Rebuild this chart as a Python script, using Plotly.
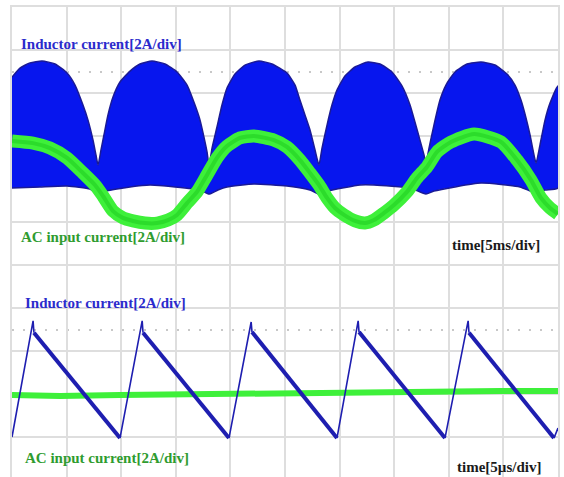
import plotly.graph_objects as go

# ---------------- top panel: time [ms], current [A] ----------------
ind_top_t = [0.00, 0.73, 1.65, 2.75, 3.94, 5.04, 5.77, 6.50, 6.96, 7.42, 7.69, 7.88,
             8.15, 8.42, 8.79, 9.25, 9.89, 10.81, 11.72, 12.82, 14.01, 15.11, 16.03,
             16.76, 17.22, 17.58, 17.86, 18.04, 18.32, 18.77, 19.23, 19.69, 20.42,
             21.34, 22.62, 23.81, 25.18, 25.92, 26.37, 26.83, 27.29, 27.75, 28.11,
             28.39, 28.85, 29.30, 29.76, 30.49, 31.41, 32.60, 33.70, 34.80, 35.71,
             36.45, 36.90, 37.36, 37.73, 37.91, 38.19, 38.64, 39.19, 39.74, 40.57,
             41.67, 42.95, 44.23, 45.33, 46.06, 46.61, 47.07, 47.44, 47.71, 47.99,
             48.35, 48.81, 49.27, 50.00]
ind_top_a = [4.74, 5.16, 5.40, 5.49, 5.35, 4.93, 4.37, 3.44, 2.74, 1.81, 1.12, 0.65,
             1.35, 2.05, 2.98, 3.81, 4.51, 5.02, 5.35, 5.49, 5.35, 4.98, 4.37,
             3.44, 2.74, 1.95, 1.26, 0.65, 1.44, 2.42, 3.44, 4.23, 4.88,
             5.30, 5.49, 5.35, 4.93, 4.37, 3.67, 2.98, 2.28, 1.35, 0.65,
             1.44, 2.51, 3.44, 4.14, 4.79, 5.21, 5.44, 5.35, 4.98, 4.33,
             3.44, 2.65, 1.81, 1.12, 0.74, 1.44, 2.51, 3.67, 4.37, 4.98,
             5.35, 5.44, 5.30, 4.88, 4.37, 3.67, 2.84, 2.05, 1.35, 0.74,
             1.58, 2.74, 3.53, 4.33]

ind_bot_t = [0.00, 2.56, 5.04, 7.14, 7.88, 8.61, 10.81, 12.64, 14.93, 17.22, 18.04,
             18.86, 19.69, 22.16, 25.18, 27.29, 28.11, 28.94, 31.87, 33.15, 36.45,
             37.91, 38.64, 42.95, 46.52, 47.99, 48.81, 50.00]
ind_bot_a = [-0.42, -0.37, -0.33, -0.47, -0.70, -0.56, -0.37, -0.28, -0.37, -0.51, -0.70,
             -0.51, -0.37, -0.23, -0.33, -0.51, -0.70, -0.56, -0.28, -0.28, -0.42,
             -0.70, -0.56, -0.19, -0.37, -0.65, -0.51, -0.42]

ac_top_t = [0.00, 1.92, 3.48, 5.04, 6.50, 7.60, 8.33, 9.25, 10.16, 11.08, 12.18, 13.28,
            14.29, 15.11, 16.03, 16.94, 17.86, 18.77, 19.69, 20.88, 22.16, 23.99,
            25.18, 26.37, 27.29, 28.11, 28.85, 29.58, 30.40, 31.41, 32.33, 33.15,
            34.07, 34.98, 36.17, 37.09, 38.00, 38.92, 40.20, 42.31, 44.78, 46.25,
            47.53, 48.44, 49.27, 50.00]
ac_top_a = [1.77, 1.67, 1.44, 0.98, 0.28, -0.28, -0.79, -1.49, -1.81, -1.95, -2.05, -2.05,
            -1.91, -1.67, -1.12, -0.60, 0.19, 0.98, 1.53, 1.91, 2.00, 1.81,
            1.49, 0.88, 0.28, -0.28, -0.88, -1.35, -1.67, -1.95, -2.05, -1.91,
            -1.58, -1.21, -0.60, 0.05, 0.56, 1.26, 1.72, 2.09, 1.72, 0.88,
            -0.05, -0.88, -1.35, -1.63]

# ---------------- bottom panel: time [µs], current [A] ----------------
valley_t = [0.00, 9.89, 19.87, 29.76, 39.65, 49.63]
valley_a = [0.00, -0.05, -0.05, -0.05, -0.05, -0.05]
spike_t = [1.93, 11.92, 21.90, 31.70, 41.77]
spike_a = [5.40, 5.40, 5.35, 5.40, 5.40]
peak_t = [2.01, 12.00, 21.98, 31.78, 41.85]
peak_a = [4.85, 4.85, 4.88, 4.88, 4.85]
tail_t = [50.00]
tail_a = [0.42]

ac_bot_t = [0.00, 4.40, 9.89, 17.22, 24.54, 29.12, 35.53, 40.11, 44.69, 50.00]
ac_bot_a = [1.95, 1.91, 1.95, 2.00, 2.00, 2.05, 2.09, 2.14, 2.14, 2.14]

BLUE_FILL = "#0716ee"
BLUE_EDGE = "#1a1a96"
BLUE_LINE = "#1e1eb0"
GREEN_OUT = "#3ef03a"
GREEN_IN = "#1fcc1f"
GRID = "#dedede"

fig = go.Figure()

# empty trace so the background graticule subplot is created
fig.add_trace(go.Scatter(x=[], y=[], xaxis="x", yaxis="y", showlegend=False))

# top panel: inductor current envelope
poly_t = ind_top_t + ind_bot_t[::-1]
poly_a = ind_top_a + ind_bot_a[::-1]
fig.add_trace(go.Scatter(x=poly_t, y=poly_a, xaxis="x2", yaxis="y2", mode="lines",
                         fill="toself", fillcolor=BLUE_FILL,
                         line=dict(color=BLUE_EDGE, width=1.5, shape="spline",
                                   smoothing=0.5),
                         hoverinfo="skip", showlegend=False))
# top panel: AC input current
fig.add_trace(go.Scatter(x=ac_top_t, y=ac_top_a, xaxis="x2", yaxis="y2", mode="lines",
                         line=dict(color=GREEN_OUT, width=13, shape="spline", smoothing=0.6),
                         showlegend=False))
fig.add_trace(go.Scatter(x=ac_top_t, y=ac_top_a, xaxis="x2", yaxis="y2", mode="lines",
                         line=dict(color=GREEN_IN, width=4, shape="spline", smoothing=0.6),
                         opacity=0.55, showlegend=False))

# bottom panel: AC input current
fig.add_trace(go.Scatter(x=ac_bot_t, y=ac_bot_a, xaxis="x3", yaxis="y3", mode="lines",
                         line=dict(color=GREEN_OUT, width=6), showlegend=False))

# bottom panel: inductor current (rising thin, falling thick)
rise_x, rise_y, fall_x, fall_y = [], [], [], []
for i in range(len(peak_t)):
    rise_x += [valley_t[i], spike_t[i], peak_t[i], None]
    rise_y += [valley_a[i], spike_a[i], peak_a[i], None]
    fall_x += [peak_t[i], valley_t[i + 1], None]
    fall_y += [peak_a[i], valley_a[i + 1], None]
rise_x += [valley_t[-1]] + tail_t
rise_y += [valley_a[-1]] + tail_a
fig.add_trace(go.Scatter(x=rise_x, y=rise_y, xaxis="x3", yaxis="y3", mode="lines",
                         line=dict(color=BLUE_LINE, width=1.6), showlegend=False))
fig.add_trace(go.Scatter(x=fall_x, y=fall_y, xaxis="x3", yaxis="y3", mode="lines",
                         line=dict(color=BLUE_LINE, width=4), showlegend=False))

H = 470.0
split = (477 - 265) / H

hidden = dict(showgrid=False, zeroline=False, showticklabels=False, showline=False,
              ticks="")

fig.update_layout(
    width=564, height=477,
    margin=dict(l=12, r=6, t=7, b=0, pad=0),
    paper_bgcolor="white", plot_bgcolor="rgba(0,0,0,0)",
    showlegend=False,
    xaxis=dict(domain=[0, 1], range=[0, 10], tick0=0, dtick=1, showgrid=True,
               gridcolor=GRID, gridwidth=2, zeroline=False, showticklabels=False,
               ticks="", side="top", showline=True, linecolor=GRID, linewidth=2,
               anchor="y", fixedrange=True),
    yaxis=dict(domain=[0, 1], range=[-H / 43.0, 0], tick0=0, dtick=1, showgrid=True,
               gridcolor=GRID, gridwidth=2, zeroline=False, showticklabels=False,
               ticks="", showline=True, mirror=True, linecolor=GRID, linewidth=2,
               anchor="x", fixedrange=True,
               minor=dict(tickvals=[-1.5, -7.5, -10], showgrid=True,
                          gridcolor="#c8c8c8", gridwidth=1.5, griddash="2px,9px")),
    xaxis2=dict(domain=[0, 1], range=[0, 50], anchor="y2", **hidden),
    yaxis2=dict(domain=[split, 1], range=[-4, 8], anchor="x2", **hidden),
    xaxis3=dict(domain=[0, 1], range=[0, 50], anchor="y3", **hidden),
    yaxis3=dict(domain=[0, split], range=[-40 / 43.0 * 2, 8], anchor="x3", **hidden),
)

FONT = "Liberation Serif, Times New Roman, serif"


def px_x(p):
    return (p - 12) / 546.0


def px_y(p):
    return (477 - p) / H


labels = [
    ("<b>Inductor current[2A/div]</b>", 19, 44, "left", "#2b2bcc"),
    ("<b>AC input current[2A/div]</b>", 19, 237, "left", "#2f9c2f"),
    ("<b>time[5ms/div]</b>", 542, 245, "right", "#1a1a1a"),
    ("<b>Inductor current[2A/div]</b>", 23, 303, "left", "#2b2bcc"),
    ("<b>AC input current[2A/div]</b>", 23, 458, "left", "#2f9c2f"),
    ("<b>time[5µs/div]</b>", 543, 467, "right", "#1a1a1a"),
]
for txt, x, y, anc, col in labels:
    fig.add_annotation(text=txt, x=px_x(x), y=px_y(y), xref="paper", yref="paper",
                       xanchor=anc, yanchor="middle", showarrow=False,
                       font=dict(family=FONT, size=15, color=col))

fig.write_html("out.html", config={"displayModeBar": False},
               post_script="document.body.style.margin='0';"
                           "document.body.style.overflow='hidden';")
